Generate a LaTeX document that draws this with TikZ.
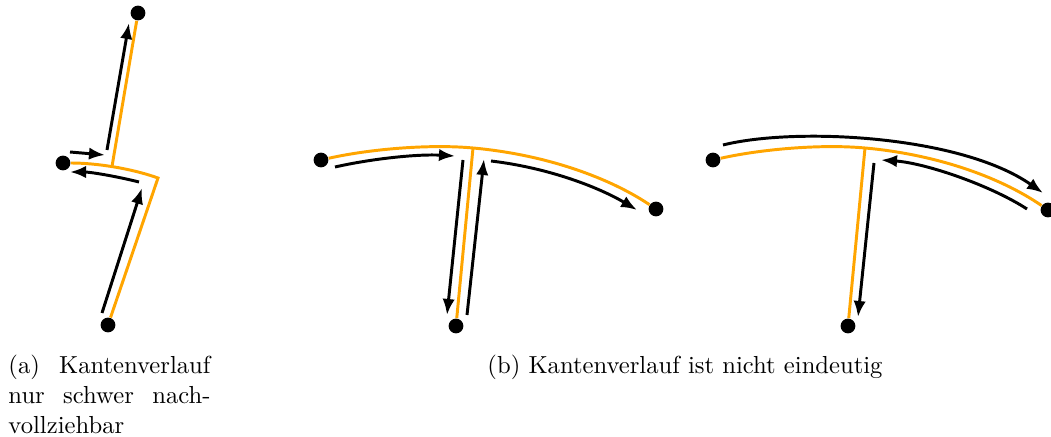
\documentclass[tikz,border=0pt]{standalone}
\usepackage{tikz}
\usetikzlibrary{arrows.meta, positioning}
\definecolor{kante}{RGB}{255,165,0}

\begin{document}
\begin{tikzpicture}[x=0.406pt, y=-0.406pt,
    knoten/.style={circle, fill=black, inner sep=0pt, minimum size=6pt},
    kantenzug/.style={draw=kante, line width=1.2pt},
    pfeil/.style={-{Latex[length=6.5pt, width=5pt]}, line width=1.2pt},
    unterschrift/.style={inner sep=0pt, font=\normalsize}]
  \useasboundingbox (0,0) rectangle (1051,437);

  %--- (a) Kantenverlauf nur schwer nachvollziehbar ---
  \node[knoten] (aO) at (138,13)  {};
  \node[knoten] (aL) at (63,163)  {};
  \node[knoten] (aU) at (108,325) {};
  \coordinate (aJ) at (112,166.5);
  \coordinate (aK) at (158,178);
  \draw[kantenzug] (aO) -- (aJ);
  \draw[kantenzug] (aL) .. controls (95,163) and (130,168) .. (aK) -- (aU);

  \coordinate (a1s) at (102,313); \coordinate (a1e) at (142,188);
  \coordinate (a2s) at (70,152);  \coordinate (a2e) at (105,155);
  \coordinate (a3s) at (107,150); \coordinate (a3e) at (129,23);
  \coordinate (a4s) at (139,182); \coordinate (a4e) at (70,172);
  \draw[pfeil] (a1s) -- (a1e);
  \draw[pfeil] (a2s) -- (a2e);
  \draw[pfeil] (a3s) -- (a3e);
  \draw[pfeil] (a4s) .. controls (115,176) and (90,172) .. (a4e);

  %--- (b) links: Kantenverlauf ---
  \node[knoten] (bL) at (321,160) {};
  \node[knoten] (bR) at (656,209) {};
  \node[knoten] (bU) at (456,326) {};
  \coordinate (bJ) at (473,148);
  \draw[kantenzug] (bL) .. controls (370,149) and (430,144) .. (bJ)
                        .. controls (540,154) and (605,175) .. (bR);
  \draw[kantenzug] (bJ) -- (bU);

  \coordinate (b1s) at (335,167); \coordinate (b1e) at (455,156);
  \coordinate (b2s) at (463,160); \coordinate (b2e) at (447,315);
  \coordinate (b3s) at (467,315); \coordinate (b3e) at (484,159);
  \coordinate (b4s) at (491,161); \coordinate (b4e) at (637,210);
  \draw[pfeil] (b1s) .. controls (375,158) and (420,154) .. (b1e);
  \draw[pfeil] (b2s) -- (b2e);
  \draw[pfeil] (b3s) -- (b3e);
  \draw[pfeil] (b4s) .. controls (550,168) and (600,188) .. (b4e);

  %--- (b) rechts: Kantenverlauf ---
  \node[knoten] (cL) at (713,160)  {};
  \node[knoten] (cR) at (1048,210) {};
  \node[knoten] (cU) at (848,326)  {};
  \coordinate (cJ) at (865,148);
  \draw[kantenzug] (cL) .. controls (762,149) and (822,144) .. (cJ)
                        .. controls (932,154) and (997,175) .. (cR);
  \draw[kantenzug] (cJ) -- (cU);

  \coordinate (c1s) at (723,145);  \coordinate (c1e) at (1043,193);
  \coordinate (c2s) at (1027,209); \coordinate (c2e) at (881,160);
  \coordinate (c3s) at (874,163);  \coordinate (c3e) at (858,317);
  \draw[pfeil] (c1s) .. controls (795,127) and (960,135) .. (c1e);
  \draw[pfeil] (c2s) .. controls (990,185) and (925,163) .. (c2e);
  \draw[pfeil] (c3s) -- (c3e);

  %--- Unterschriften ---
  \node[unterschrift, anchor=north west, text width=82pt, align=left] (capA) at (8,355)
    {\makebox[82pt][l]{(a)\hfill Kantenverlauf}\\
     \makebox[82pt][l]{nur\hfill schwer\hfill nach-}\\
     vollziehbar};
  \node[unterschrift, anchor=base west] (capB) at (487,374)
    {(b) Kantenverlauf ist nicht eindeutig};
\end{tikzpicture}
\end{document}
